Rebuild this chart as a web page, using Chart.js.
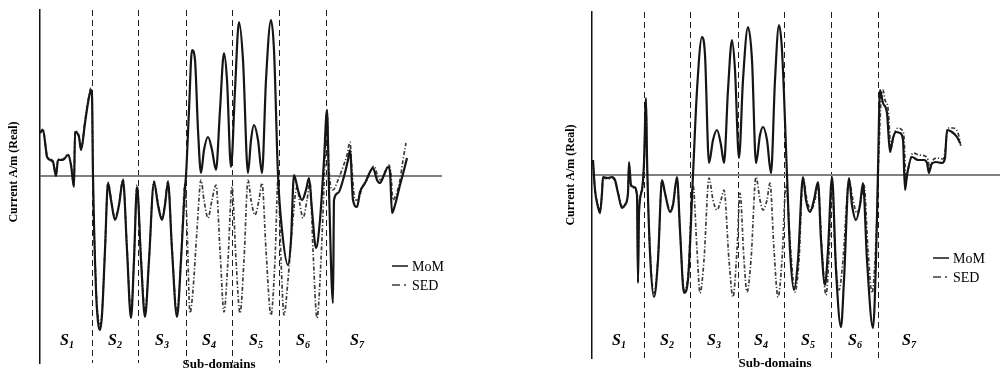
<!DOCTYPE html>
<html lang="en">
<head>
    <meta charset="UTF-8">
    <title>Current distribution over sub-domains</title>
    <style>
        body { margin: 0; background: #fff; }
        .plot { position: absolute; top: 0; }
    </style>
    <script src="https://cdn.jsdelivr.net/npm/chart.js"></script>
</head>
<body>
    <canvas id="left-chart" class="plot" width="500" height="376" style="left:0"></canvas>
    <canvas id="right-chart" class="plot" width="450" height="376" style="left:552px"></canvas>
    <script>
        // sub-domain boundaries and label positions (same for both plots)
        const boundaries = [52, 98, 146, 192, 239, 286];
        const subLabelPos = [27, 75, 122, 169, 216, 263, 317];
        const subLabels = ['1', '2', '3', '4', '5', '6', '7'];
        const seriesNames = ['MoM', 'SED'];

        // left plot: [position, current]
        const leftMoM = [
            [0,0.43],[3,0.46],[6,0.26],[7,0.19],[13,0.14],[16,0.00],[18,0.16],[23,0.16],[28,0.21],[31,0.11],[34,-0.11],[35,0.44],[39,0.39],[41,0.26],[45,0.53],[48,0.73],[51,0.86],[52,0.81],
            [53,0.00],[56,-1.14],[58,-1.46],[60,-1.54],[62,-1.39],[65,-0.74],[68,-0.07],[71,-0.24],[75,-0.44],[79,-0.29],[83,-0.04],[87,-0.74],[91,-1.42],[94,-0.84],[97,-0.11],
            [101,-0.84],[105,-1.41],[109,-0.84],[114,-0.06],[118,-0.29],[122,-0.44],[125,-0.29],[128,-0.06],[132,-0.74],[137,-1.41],[141,-0.84],[145,-0.11],
            [146,0.00],[149,0.66],[152,1.26],[155,1.16],[158,0.46],[161,0.03],[164,0.26],[168,0.39],[172,0.26],[176,0.06],[180,0.66],[184,1.23],[187,0.96],[191,0.09],
            [195,0.86],[199,1.54],[203,1.16],[208,0.03],[211,0.36],[214,0.51],[218,0.36],[222,0.03],[226,0.96],[231,1.56],[234,1.26],[238,0.01],
            [242,-0.54],[248,-0.89],[251,-0.64],[254,0.01],[258,-0.14],[262,-0.24],[266,-0.14],[269,-0.02],[272,-0.34],[276,-0.72],[280,-0.44],[284,0.16],[287,0.66],[289,-0.14],[293,-1.27],[294,-0.24],
            [298,-0.17],[303,-0.04],[308,0.16],[310,0.26],[313,-0.24],[317,-0.31],[320,-0.16],[325,-0.07],[330,0.04],[333,0.08],[337,-0.04],[340,-0.07],[344,0.01],[348,0.09],[350,0.04],[352,-0.37],[355,-0.29],[360,-0.09],[364,0.06],[367,0.18]
        ];
        const leftSED = [
            [0,0.44],[3,0.47],[6,0.27],[7,0.20],[13,0.15],[16,0.01],[18,0.17],[23,0.17],[28,0.22],[31,0.12],[34,-0.10],[35,0.45],[39,0.40],[41,0.27],[45,0.55],[48,0.75],[51,0.88],[52,0.80],
            [53,0.00],[56,-1.10],[58,-1.40],[60,-1.48],[62,-1.36],[65,-0.74],[68,-0.06],[71,-0.22],[75,-0.42],[79,-0.28],[83,-0.03],[87,-0.72],[91,-1.38],[94,-0.84],[97,-0.09],
            [101,-0.80],[105,-1.37],[109,-0.84],[114,-0.05],[118,-0.27],[122,-0.42],[125,-0.27],[128,-0.05],[132,-0.72],[137,-1.37],[141,-0.84],[145,-0.08],
            [147,-0.50],[150,-1.37],[153,-1.14],[157,-0.54],[161,-0.04],[164,-0.24],[168,-0.42],[172,-0.24],[176,-0.09],[180,-0.74],[184,-1.36],[188,-0.84],[192,-0.11],
            [196,-0.84],[200,-1.37],[204,-0.84],[208,-0.04],[211,-0.24],[215,-0.39],[219,-0.24],[222,-0.07],[226,-0.74],[231,-1.39],[235,-0.84],[238,-0.04],
            [241,-0.84],[244,-1.39],[248,-1.04],[252,-0.54],[257,-0.11],[260,-0.29],[263,-0.42],[267,-0.24],[270,-0.06],[273,-0.74],[277,-1.42],[281,-0.84],[285,0.16],[287,0.66],[289,0.06],[293,-0.14],
            [298,-0.04],[303,0.09],[307,0.21],[310,0.34],[312,0.06],[315,-0.24],[318,-0.24],[322,-0.12],[327,-0.04],[331,0.06],[334,0.10],[338,-0.01],[341,-0.04],[345,0.04],[349,0.11],[351,0.01],[353,-0.24],[356,-0.19],[360,-0.04],[363,0.16],[366,0.33]
        ];

        // right plot: [position, current]
        const rightMoM = [
            [1,0.15],[3,-0.15],[6,-0.32],[8,-0.38],[10,-0.18],[11,-0.02],[16,-0.03],[20,-0.02],[23,-0.05],[26,-0.18],[30,-0.33],[33,-0.30],[36,-0.18],[37,0.13],[39,-0.10],[42,-0.12],[45,-0.20],[46,-1.08],[47,-0.38],[50,-0.15],[52,0.12],[54,0.77],[55,0.18],
            [58,-0.78],[62,-1.22],[66,-0.85],[70,-0.05],[73,-0.18],[78,-0.37],[81,-0.30],[85,-0.02],[88,-0.55],[92,-1.18],[96,-1.05],[101,0.00],
            [105,0.85],[110,1.38],[113,1.20],[117,0.12],[121,0.35],[125,0.45],[129,0.30],[132,0.12],[136,0.85],[140,1.35],[143,1.05],[147,0.17],
            [151,0.95],[156,1.48],[160,1.15],[164,0.12],[168,0.40],[171,0.48],[175,0.35],[179,0.02],[183,0.95],[187,1.50],[190,1.25],[195,0.00],
            [198,-0.75],[202,-1.15],[206,-0.85],[211,-0.02],[214,-0.25],[218,-0.37],[222,-0.25],[226,-0.07],[229,-0.65],[233,-1.10],[236,-0.75],[240,-0.02],
            [244,-0.95],[249,-1.52],[252,-1.05],[257,-0.03],[260,-0.30],[264,-0.45],[268,-0.30],[271,-0.08],[275,-0.85],[281,-1.53],[284,-0.85],[286,0.05],[288,0.85],
            [291,0.72],[295,0.62],[298,0.23],[301,0.37],[304,0.43],[308,0.42],[311,0.35],[313,-0.15],[315,0.00],[320,0.18],[326,0.15],[332,0.15],[335,0.12],[337,0.02],[339,0.10],[344,0.13],[350,0.12],[353,0.17],[355,0.45],[360,0.43],[365,0.38],[368,0.32]
        ];
        const rightSED = [
            [1,0.13],[3,-0.14],[6,-0.30],[8,-0.36],[10,-0.17],[11,-0.03],[16,-0.04],[20,-0.03],[23,-0.06],[26,-0.17],[30,-0.31],[33,-0.29],[36,-0.17],[37,0.10],[39,-0.11],[42,-0.13],[45,-0.21],[46,-0.90],[47,-0.36],[50,-0.14],[52,0.10],[54,0.70],[55,0.15],
            [58,-0.74],[62,-1.18],[66,-0.83],[70,-0.06],[73,-0.19],[78,-0.35],[81,-0.29],[85,-0.04],[88,-0.56],[92,-1.15],[96,-1.00],[101,-0.10],
            [105,-0.75],[108,-1.18],[112,-0.85],[117,-0.03],[121,-0.25],[125,-0.35],[129,-0.25],[132,-0.15],[137,-0.85],[141,-1.22],[145,-0.75],[148,-0.18],
            [152,-0.85],[155,-1.17],[159,-0.85],[164,-0.02],[168,-0.25],[171,-0.35],[175,-0.25],[178,-0.08],[182,-0.75],[186,-1.22],[190,-0.85],[194,-0.10],
            [199,-0.80],[203,-1.17],[207,-0.85],[211,-0.03],[215,-0.25],[219,-0.35],[223,-0.25],[226,-0.10],[230,-0.75],[234,-1.20],[237,-0.80],[240,-0.05],
            [243,-0.75],[247,-1.15],[251,-0.85],[257,-0.05],[261,-0.25],[265,-0.38],[269,-0.25],[272,-0.10],[276,-0.75],[280,-1.18],[284,-0.65],[287,0.25],[289,0.75],[291,0.85],
            [293,0.75],[296,0.67],[299,0.27],[302,0.40],[306,0.47],[310,0.45],[312,0.38],[314,-0.05],[316,0.05],[321,0.22],[327,0.20],[333,0.19],[336,0.15],[338,0.05],[340,0.13],[345,0.17],[351,0.16],[353,0.23],[356,0.47],[361,0.47],[366,0.42],[369,0.28]
        ];

        const serif = '"Liberation Serif", "DejaVu Serif", serif';

        // axis titles, S1..S7 labels and the small legend inside the plot
        const annotations = {
            id: 'annotations',
            afterDraw(chart, args, opts) {
                const ctx = chart.ctx;
                const xScale = chart.scales.x;
                ctx.save();
                ctx.fillStyle = '#000';

                // y title
                ctx.save();
                ctx.translate(opts.yTitle.x, opts.yTitle.y);
                ctx.rotate(-Math.PI / 2);
                ctx.font = 'bold 12px ' + serif;
                ctx.textAlign = 'center';
                ctx.textBaseline = 'middle';
                ctx.fillText('Current A/m (Real)', 0, 0);
                ctx.restore();

                // x title
                ctx.font = 'bold 13px ' + serif;
                ctx.textAlign = 'center';
                ctx.textBaseline = 'middle';
                ctx.fillText('Sub-domains', opts.xTitle.x, opts.xTitle.y);

                // sub-domain names with subscripts
                ctx.textAlign = 'left';
                ctx.textBaseline = 'alphabetic';
                subLabelPos.forEach((v, i) => {
                    const cx = xScale.getPixelForValue(v);
                    ctx.font = 'italic bold 16px ' + serif;
                    const w1 = ctx.measureText('S').width;
                    ctx.font = 'italic bold 10px ' + serif;
                    const w2 = ctx.measureText(subLabels[i]).width;
                    const x0 = cx - (w1 + w2) / 2;
                    ctx.font = 'italic bold 16px ' + serif;
                    ctx.fillText('S', x0, opts.labelY);
                    ctx.font = 'italic bold 10px ' + serif;
                    ctx.fillText(subLabels[i], x0 + w1, opts.labelY + 3);
                });

                // legend
                const lg = opts.legend;
                ctx.font = '14px ' + serif;
                ctx.textBaseline = 'middle';
                chart.data.datasets.forEach((ds, i) => {
                    const y = lg.y + i * lg.gap;
                    ctx.strokeStyle = ds.borderColor;
                    ctx.lineWidth = 1.5;
                    ctx.setLineDash(i === 0 ? [] : [8, 4, 2, 4]);
                    ctx.beginPath();
                    ctx.moveTo(lg.x, y);
                    ctx.lineTo(lg.x + 16, y);
                    ctx.stroke();
                    ctx.fillText(ds.label, lg.x + 20, y + 1);
                });
                ctx.restore();
            }
        };

        function makeChart(id, mom, sed, s) {
            const toPoints = arr => arr.map(p => ({ x: p[0], y: p[1] }));
            return new Chart(document.getElementById(id), {
                type: 'line',
                data: {
                    datasets: [{
                        label: seriesNames[0],
                        data: toPoints(mom),
                        borderColor: '#151515',
                        borderWidth: 2.2,
                        pointRadius: 0,
                        cubicInterpolationMode: 'monotone',
                        fill: false,
                    },
                    {
                        label: seriesNames[1],
                        data: toPoints(sed),
                        borderColor: '#3c3c3c',
                        borderWidth: 1.7,
                        borderDash: [4, 2, 1.2, 2],
                        pointRadius: 0,
                        cubicInterpolationMode: 'monotone',
                        fill: false,
                    }],
                },
                options: {
                    responsive: false,
                    animation: false,
                    devicePixelRatio: 1,
                    layout: { padding: { top: s.top, right: s.right, bottom: 0, left: 0 } },
                    plugins: {
                        legend: { display: false },
                        tooltip: { enabled: false },
                        annotations: s.notes,
                    },
                    scales: {
                        x: {
                            type: 'linear',
                            min: 0,
                            max: s.xMax,
                            afterBuildTicks: scale => {
                                scale.ticks = boundaries.map(v => ({ value: v }));
                            },
                            afterFit: scale => { scale.height = s.bottom; },
                            ticks: { display: false },
                            grid: { color: '#1e1e1e', lineWidth: 1, drawTicks: false },
                            border: { display: false, dash: [6, 4] },
                        },
                        y: {
                            min: s.yMin,
                            max: s.yMax,
                            afterFit: scale => { scale.width = 40; },
                            ticks: { display: false, stepSize: 0.5 },
                            grid: {
                                drawTicks: false,
                                lineWidth: 2,
                                color: ctx => ctx.tick && ctx.tick.value === 0 ? '#808080' : 'rgba(0,0,0,0)',
                            },
                            border: { display: true, color: '#111', width: 1.5 },
                        },
                    },
                },
                plugins: [annotations],
            });
        }

        makeChart('left-chart', leftMoM, leftSED, {
            top: 10, right: 58, bottom: 13, xMax: 402, yMin: -1.87, yMax: 1.66,
            notes: {
                yTitle: { x: 14, y: 172 },
                xTitle: { x: 219, y: 365 },
                labelY: 345,
                legend: { x: 392, y: 266, gap: 19 },
            },
        });

        makeChart('right-chart', rightMoM, rightSED, {
            top: 12, right: 2, bottom: 18, xMax: 408, yMin: -1.83, yMax: 1.63,
            notes: {
                yTitle: { x: 19, y: 175 },
                xTitle: { x: 223, y: 364 },
                labelY: 345,
                legend: { x: 381, y: 258, gap: 19 },
            },
        });
    </script>
</body>
</html>
